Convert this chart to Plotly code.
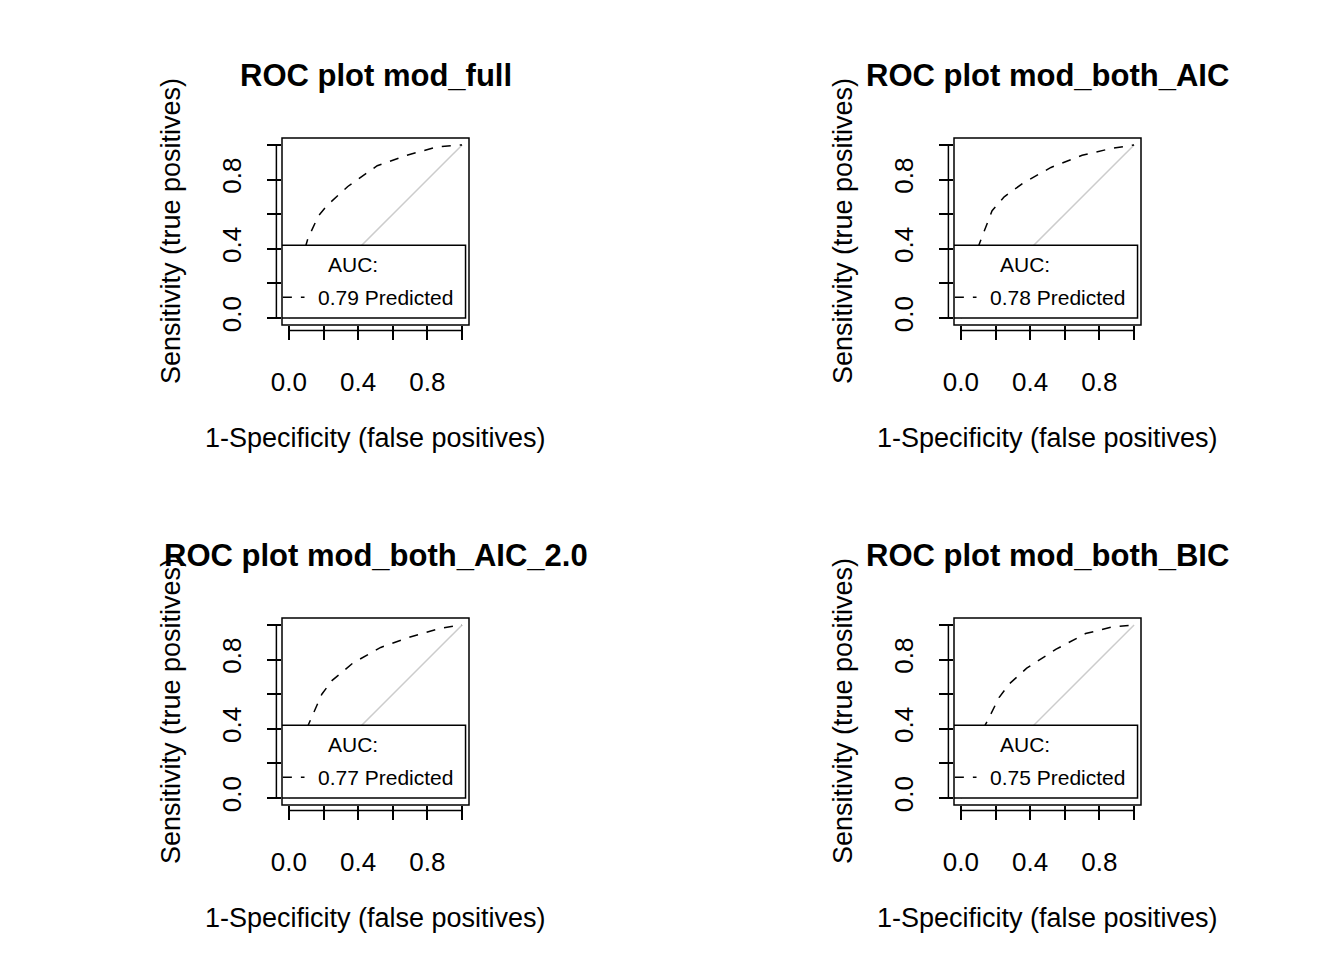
import plotly.graph_objects as go

# data
titles = ["ROC plot mod_full", "ROC plot mod_both_AIC",
          "ROC plot mod_both_AIC_2.0", "ROC plot mod_both_BIC"]
auc = ["0.79", "0.78", "0.77", "0.75"]
fpr_full = [0.0, 0.04, 0.08, 0.11, 0.17, 0.22, 0.34, 0.51, 0.68, 0.86, 1.0]
tpr_full = [0.0, 0.20, 0.36, 0.46, 0.59, 0.65, 0.76, 0.88, 0.94, 0.99, 1.0]
fpr_aic = [0.0, 0.04, 0.08, 0.12, 0.18, 0.25, 0.36, 0.52, 0.70, 0.87, 1.0]
tpr_aic = [0.0, 0.20, 0.36, 0.46, 0.62, 0.70, 0.78, 0.87, 0.94, 0.98, 1.0]
fpr_aic2 = [0.0, 0.04, 0.08, 0.12, 0.19, 0.25, 0.37, 0.53, 0.70, 0.87, 1.0]
tpr_aic2 = [0.0, 0.19, 0.35, 0.44, 0.60, 0.68, 0.78, 0.87, 0.93, 0.98, 1.0]
fpr_bic = [0.0, 0.04, 0.09, 0.15, 0.22, 0.28, 0.38, 0.55, 0.72, 0.88, 1.0]
tpr_bic = [0.0, 0.18, 0.33, 0.44, 0.58, 0.66, 0.75, 0.86, 0.95, 0.99, 1.0]
curves = [(fpr_full, tpr_full), (fpr_aic, tpr_aic), (fpr_aic2, tpr_aic2), (fpr_bic, tpr_bic)]
tickvals = [0, 0.2, 0.4, 0.6, 0.8, 1.0]
ticktext = ["0.0", "", "0.4", "", "0.8", ""]

W, H = 1344, 960
FONT = "Liberation Sans, Arial"
# plot-box pixel positions (left, top) of each panel
boxes = [(274, 130), (946, 130), (274, 610), (946, 610)]
BW = 187

fig = go.Figure()
shapes, annos = [], []
for i, ((fx, ty), (left, top)) in enumerate(zip(curves, boxes)):
    n = "" if i == 0 else str(i + 1)
    xa, ya = "x" + n, "y" + n
    dom_x = [left / W, (left + BW) / W]
    dom_y = [1 - (top + BW) / H, 1 - top / H]
    fig.add_trace(go.Scatter(x=[0, 1], y=[0, 1], mode="lines", xaxis=xa, yaxis=ya,
                             line=dict(color="#cccccc", width=1.5), showlegend=False))
    fig.add_trace(go.Scatter(x=fx, y=ty, mode="lines", xaxis=xa, yaxis=ya,
                             line=dict(color="black", width=1.5, dash="dash"), showlegend=False))
    ax = dict(range=[-0.04, 1.04], tickvals=tickvals, ticktext=ticktext, ticks="outside",
              ticklen=14, tickwidth=1.5, tickcolor="black", showgrid=False, zeroline=False,
              showline=False, automargin=False,
              tickfont=dict(family=FONT, size=26, color="black"))
    fig.layout["xaxis" + n] = dict(ax, domain=dom_x, anchor=ya, ticklabelstandoff=20)
    fig.layout["yaxis" + n] = dict(ax, domain=dom_y, anchor=xa, tickangle=-90, ticklabelstandoff=16)
    # plot box
    shapes.append(dict(type="rect", xref=xa + " domain", yref=ya + " domain",
                       x0=0, x1=1, y0=0, y1=1, line=dict(color="black", width=1.5)))
    # axis lines
    shapes.append(dict(type="line", xref=xa, yref=ya + " domain", x0=0, x1=1, y0=-0.03, y1=-0.03,
                       line=dict(color="black", width=1.5)))
    shapes.append(dict(type="line", xref=xa + " domain", yref=ya, x0=-0.03, x1=-0.03, y0=0, y1=1,
                       line=dict(color="black", width=1.5)))
    # legend box
    shapes.append(dict(type="rect", xref=xa, yref=ya, x0=-0.04, x1=1.02, y0=0.0, y1=0.42,
                       fillcolor="white", line=dict(color="black", width=1.5), layer="above"))
    shapes.append(dict(type="line", xref=xa, yref=ya, x0=-0.035, x1=0.09, y0=0.12, y1=0.12,
                       line=dict(color="black", width=1.5, dash="dash"), layer="above"))
    annos.append(dict(xref=xa, yref=ya, x=0.37, y=0.31, text="AUC:", showarrow=False,
                      xanchor="center", yanchor="middle",
                      font=dict(family=FONT, size=21, color="black")))
    annos.append(dict(xref=xa, yref=ya, x=0.56, y=0.12, text=auc[i] + " Predicted", showarrow=False,
                      xanchor="center", yanchor="middle",
                      font=dict(family=FONT, size=21, color="black")))
    cx = (left + BW / 2) / W
    annos.append(dict(xref="paper", yref="paper", x=cx, y=1 - (top - 63) / H, text="<b>" + titles[i] + "</b>",
                      showarrow=False, xanchor="center", yanchor="middle",
                      font=dict(family=FONT, size=31, color="black")))
    annos.append(dict(xref="paper", yref="paper", x=cx, y=1 - (top + 300) / H,
                      text="1-Specificity (false positives)", showarrow=False,
                      xanchor="center", yanchor="middle",
                      font=dict(family=FONT, size=27, color="black")))
    annos.append(dict(xref="paper", yref="paper", x=(left - 111) / W, y=1 - (top + 93) / H,
                      text="Sensitivity (true positives)", showarrow=False, textangle=-90,
                      xanchor="center", yanchor="middle",
                      font=dict(family=FONT, size=27, color="black")))

fig.update_layout(width=W, height=H, margin=dict(l=0, r=0, t=0, b=0, autoexpand=False),
                  plot_bgcolor="white", paper_bgcolor="white",
                  shapes=shapes, annotations=annos)
fig.write_html("out.html")
